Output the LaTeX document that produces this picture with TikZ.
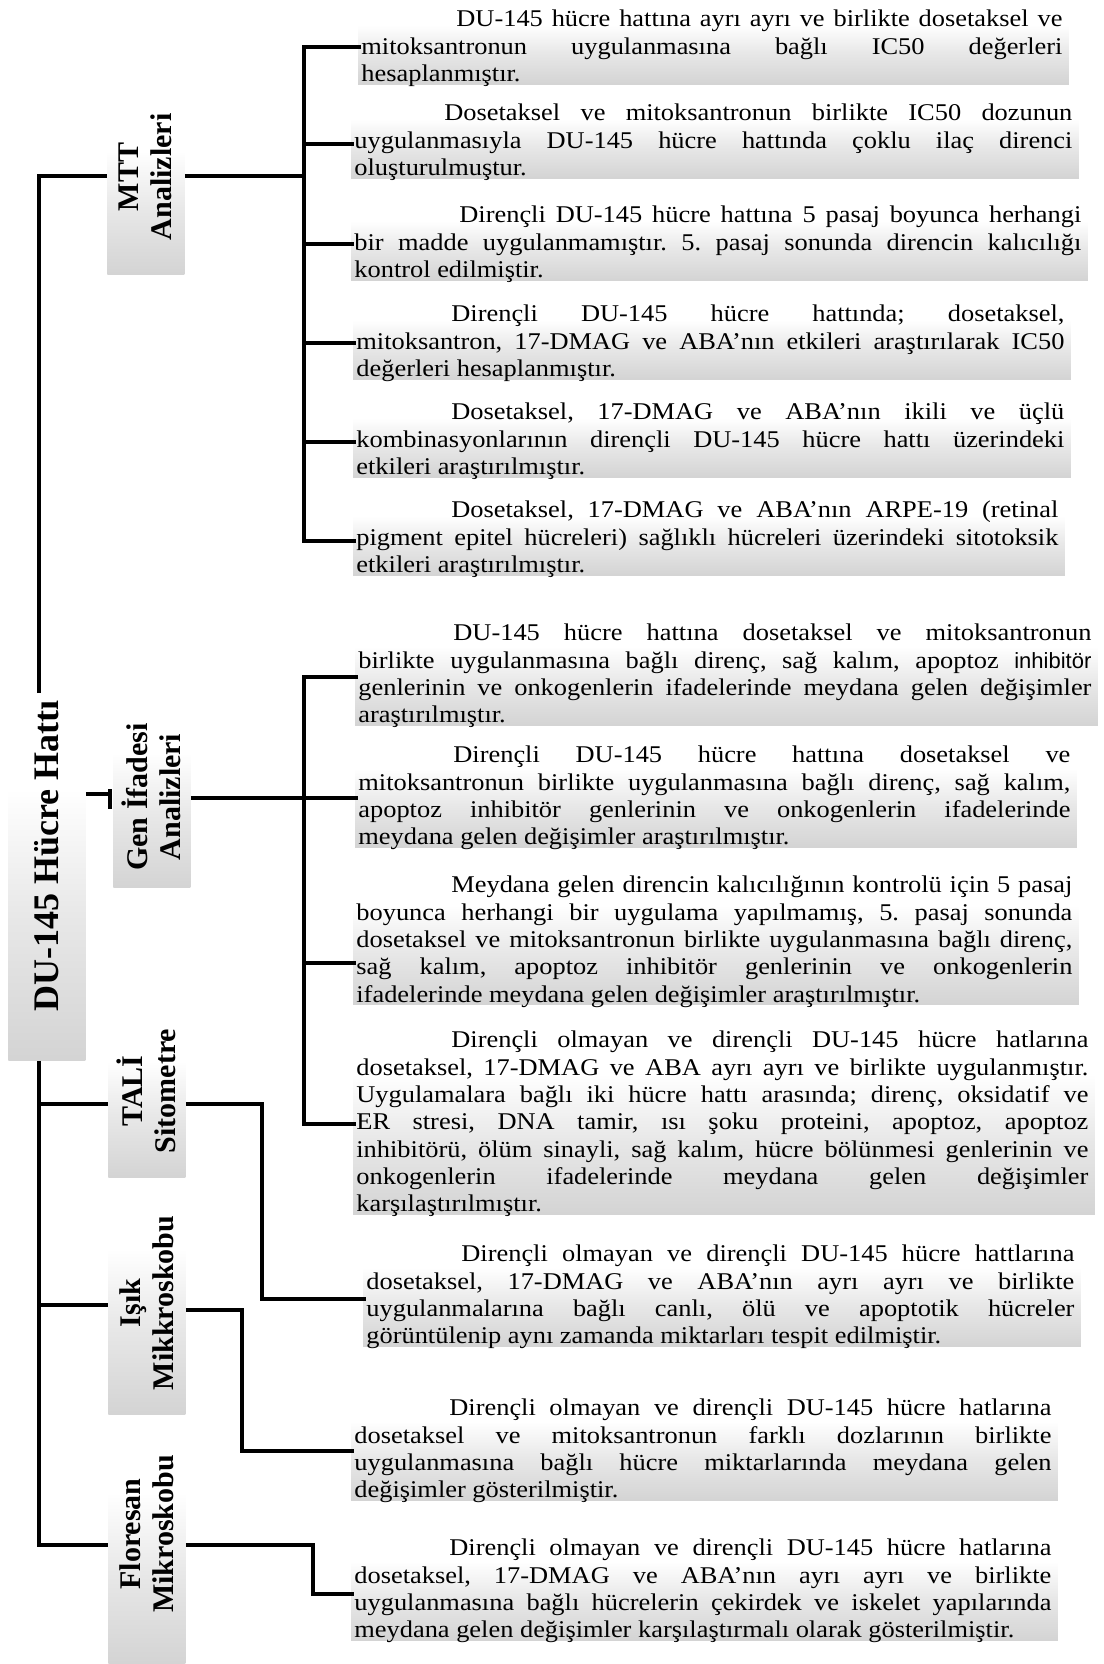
\documentclass[tikz,border=0pt]{standalone}
\usepackage{fontspec}
\setmainfont{Liberation Serif}[FakeStretch=1.10]
\newfontfamily\hfont{Liberation Serif}
\newfontfamily\altsans{Liberation Sans}
\usetikzlibrary{calc,backgrounds}

% soft fade: grey at the bottom edge, white in the upper half
\pgfdeclareverticalshading{boxfade}{100bp}{color(0bp)=(black!17); color(25bp)=(black!17); color(45bp)=(black!9); color(62bp)=(white); color(100bp)=(white)}

\def\indw{47.5pt}
\def\rowwd{300pt}
% a block of lines of a given width; lines are justified (first one indented) except the last
\newcommand\parablock[2]{\vbox{\def\rowwd{#1}\spaceskip=.275em plus 3em minus .03em\relax #2}}
\newcommand\frow[2][\indw]{\hbox to \rowwd{\strut\hspace*{#1}#2}}
\newcommand\jrow[1]{\hbox to \rowwd{\strut#1}}
\newcommand\lrow[1]{\hbox to \rowwd{\strut#1\hfil}}
\hbadness=10000
\hfuzz=30pt
\frenchspacing

\begin{document}
\begin{tikzpicture}[x=0.5pt,y=-0.5pt,
  conn/.style={draw=black, line width=2.2pt, line join=miter},
  para/.style={anchor=north west, inner sep=0pt, font=\fontsize{12pt}{13.65pt}\selectfont},
  headbox/.style={anchor=north west, inner sep=0pt, minimum width=38.5pt, minimum height=#1, shade, shading=boxfade},
  headtext/.style={rotate=90, align=center, inner sep=0pt, font=\hfont\bfseries\fontsize{15pt}{16.5pt}\selectfont},
]
\useasboundingbox (0,0) rectangle (1103,1664);
\begin{scope}[on background layer]
  \fill[white] (0,0) rectangle (1103,1664);
\end{scope}

% ---------- heading boxes ----------
\node[headbox=183.5pt] (title) at (8,693) {};
\node[headbox=83.5pt] (mtt) at (107,107) {};
\node[headbox=91pt] (gen) at (113,705) {};
\node[headbox=78.5pt] (tali) at (108,1020) {};
\node[headbox=112pt] (isik) at (108,1190) {};
\node[headbox=116pt] (flo) at (108,1432) {};

\node[rotate=90, inner sep=0pt, font=\hfont\bfseries\fontsize{18pt}{20pt}\selectfont] (titleT) at (47,856) {DU-145 Hücre Hattı};
\node[headtext] (mttT) at (145.5,177) {MTT\\Analizleri};
\node[headtext] (genT) at (151.5,797) {Gen İfadesi\\Analizleri};
\node[headtext] (taliT) at (146.5,1091) {TALİ\\Sitometre};
\node[headtext] (isikT) at (146.5,1303) {Işık\\Mikkroskobu};
\node[headtext] (floT) at (146.5,1534) {Floresan\\Mikroskobu};

% ---------- MTT paragraphs ----------
\node[para] (m1) at (361,7.4) {\parablock{350.5pt}{%
\frow{DU-145 hücre hattına ayrı ayrı ve birlikte dosetaksel ve}%
\jrow{mitoksantronun uygulanmasına bağlı IC50 değerleri}%
\lrow{hesaplanmıştır.}}};
\node[para] (m2) at (354,101.4) {\parablock{359pt}{%
\frow[45pt]{Dosetaksel ve mitoksantronun birlikte IC50 dozunun}%
\jrow{uygulanmasıyla DU-145 hücre hattında çoklu ilaç direnci}%
\lrow{oluşturulmuştur.}}};
\node[para] (m3) at (354,203.4) {\parablock{363.5pt}{%
\frow[52.5pt]{Dirençli DU-145 hücre hattına 5 pasaj boyunca herhangi}%
\jrow{bir madde uygulanmamıştır. 5. pasaj sonunda direncin kalıcılığı}%
\lrow{kontrol edilmiştir.}}};
\node[para] (m4) at (356,302.4) {\parablock{354pt}{%
\frow{Dirençli DU-145 hücre hattında; dosetaksel,}%
\jrow{mitoksantron, 17-DMAG ve ABA'nın etkileri araştırılarak IC50}%
\lrow{değerleri hesaplanmıştır.}}};
\node[para] (m5) at (356,400.4) {\parablock{354pt}{%
\frow{Dosetaksel, 17-DMAG ve ABA'nın ikili ve üçlü}%
\jrow{kombinasyonlarının dirençli DU-145 hücre hattı üzerindeki}%
\lrow{etkileri araştırılmıştır.}}};
\node[para] (m6) at (356,498.4) {\parablock{351pt}{%
\frow{Dosetaksel, 17-DMAG ve ABA'nın ARPE-19 (retinal}%
\jrow{pigment epitel hücreleri) sağlıklı hücreleri üzerindeki sitotoksik}%
\lrow{etkileri araştırılmıştır.}}};

% ---------- gene expression paragraphs ----------
\node[para] (g1) at (358,621.4) {\parablock{366.5pt}{%
\frow{DU-145 hücre hattına dosetaksel ve mitoksantronun}%
\jrow{birlikte uygulanmasına bağlı direnç, sağ kalım, apoptoz {\altsans\fontsize{11pt}{13.65pt}\selectfont inhibitör}}%
\jrow{genlerinin ve onkogenlerin ifadelerinde meydana gelen değişimler}%
\lrow{araştırılmıştır.}}};
\node[para] (g2) at (358,743.4) {\parablock{356pt}{%
\frow{Dirençli DU-145 hücre hattına dosetaksel ve}%
\jrow{mitoksantronun birlikte uygulanmasına bağlı direnç, sağ kalım,}%
\jrow{apoptoz inhibitör genlerinin ve onkogenlerin ifadelerinde}%
\lrow{meydana gelen değişimler araştırılmıştır.}}};
\node[para] (g3) at (356,873.4) {\parablock{358pt}{%
\frow{Meydana gelen direncin kalıcılığının kontrolü için 5 pasaj}%
\jrow{boyunca herhangi bir uygulama yapılmamış, 5. pasaj sonunda}%
\jrow{dosetaksel ve mitoksantronun birlikte uygulanmasına bağlı direnç,}%
\jrow{sağ kalım, apoptoz inhibitör genlerinin ve onkogenlerin}%
\lrow{ifadelerinde meydana gelen değişimler araştırılmıştır.}}};
\node[para] (g4) at (356,1028.4) {\parablock{366pt}{%
\frow{Dirençli olmayan ve dirençli DU-145 hücre hatlarına}%
\jrow{dosetaksel, 17-DMAG ve ABA ayrı ayrı ve birlikte uygulanmıştır.}%
\jrow{Uygulamalara bağlı iki hücre hattı arasında; direnç, oksidatif ve}%
\jrow{ER stresi, DNA tamir, ısı şoku proteini, apoptoz, apoptoz}%
\jrow{inhibitörü, ölüm sinayli, sağ kalım, hücre bölünmesi genlerinin ve}%
\jrow{onkogenlerin ifadelerinde meydana gelen değişimler}%
\lrow{karşılaştırılmıştır.}}};

% ---------- flow cytometry / microscopy paragraphs ----------
\node[para] (t1) at (366,1242.4) {\parablock{354pt}{%
\frow{Dirençli olmayan ve dirençli DU-145 hücre hattlarına}%
\jrow{dosetaksel, 17-DMAG ve ABA'nın ayrı ayrı ve birlikte}%
\jrow{uygulanmalarına bağlı canlı, ölü ve apoptotik hücreler}%
\lrow{görüntülenip aynı zamanda miktarları tespit edilmiştir.}}};
\node[para] (i1) at (354,1396.4) {\parablock{348.5pt}{%
\frow{Dirençli olmayan ve dirençli DU-145 hücre hatlarına}%
\jrow{dosetaksel ve mitoksantronun farklı dozlarının birlikte}%
\jrow{uygulanmasına bağlı hücre miktarlarında meydana gelen}%
\lrow{değişimler gösterilmiştir.}}};
\node[para] (f1) at (354,1536.4) {\parablock{348.5pt}{%
\frow{Dirençli olmayan ve dirençli DU-145 hücre hatlarına}%
\jrow{dosetaksel, 17-DMAG ve ABA'nın ayrı ayrı ve birlikte}%
\jrow{uygulanmasına bağlı hücrelerin çekirdek ve iskelet yapılarında}%
\lrow{meydana gelen değişimler karşılaştırmalı olarak gösterilmiştir.}}};

% faded panels behind the paragraphs
\begin{scope}[on background layer]
\foreach \n in {m1,m2,m3,m4,m5,m6,g1,g2,g3,g4,t1,i1,f1}
  \path[shade, shading=boxfade] ($(\n.north west)+(-3,-3)$) rectangle ($(\n.south east)+(6,-6)$);
\end{scope}

% ---------- trunk ----------
\coordinate (tTop) at (39,176);
\coordinate (tGen) at (110,794);
\coordinate (tTali) at (39,1104);
\coordinate (tIsik) at (39,1305);
\coordinate (tFlo) at (39,1545);
\draw[conn] (tTop |- title.north) -- (tTop) -- (tTop -| mtt.west);
\draw[conn] (tTop |- title.south) -- (tFlo) -- (tFlo -| flo.west);
\draw[conn] (tTali) -- (tTali -| tali.west);
\draw[conn] (tIsik) -- (tIsik -| isik.west);
\draw[conn] (tGen -| title.east) -- (tGen);
\draw[conn] ($(tGen)+(0,-5)$) -- ($(tGen)+(0,15)$);

% ---------- MTT bus ----------
\coordinate (mBus) at (304,176);
\coordinate (mj1) at (304,47);
\coordinate (mj2) at (304,144);
\coordinate (mj3) at (304,244);
\coordinate (mj4) at (304,343);
\coordinate (mj5) at (304,442);
\coordinate (mj6) at (304,541);
\draw[conn] (mBus -| mtt.east) -- (mBus);
\draw[conn] (mj1 -| m1.west) -- (mj1) -- (mj6) -- (mj6 -| m6.west);
\foreach \i in {2,3,4,5} \draw[conn] (mj\i) -- (mj\i -| m\i.west);

% ---------- gene expression bus ----------
\coordinate (gj1) at (304,677);
\coordinate (gj2) at (304,798);
\coordinate (gj3) at (304,963);
\coordinate (gj4) at (304,1124);
\draw[conn] (gj2 -| gen.east) -- (gj2);
\draw[conn] (gj1 -| g1.west) -- (gj1) -- (gj4) -- (gj4 -| g4.west);
\foreach \i in {2,3} \draw[conn] (gj\i) -- (gj\i -| g\i.west);

% ---------- elbow connectors ----------
\coordinate (ta) at (262,1104);
\coordinate (tb) at (262,1299);
\draw[conn] (ta -| tali.east) -- (ta) -- (tb) -- (tb -| t1.west);
\coordinate (ia) at (242,1310);
\coordinate (ib) at (242,1451);
\draw[conn] (ia -| isik.east) -- (ia) -- (ib) -- (ib -| i1.west);
\coordinate (fa) at (313,1545);
\coordinate (fb) at (313,1594);
\draw[conn] (fa -| flo.east) -- (fa) -- (fb) -- (fb -| f1.west);
\end{tikzpicture}
\end{document}
